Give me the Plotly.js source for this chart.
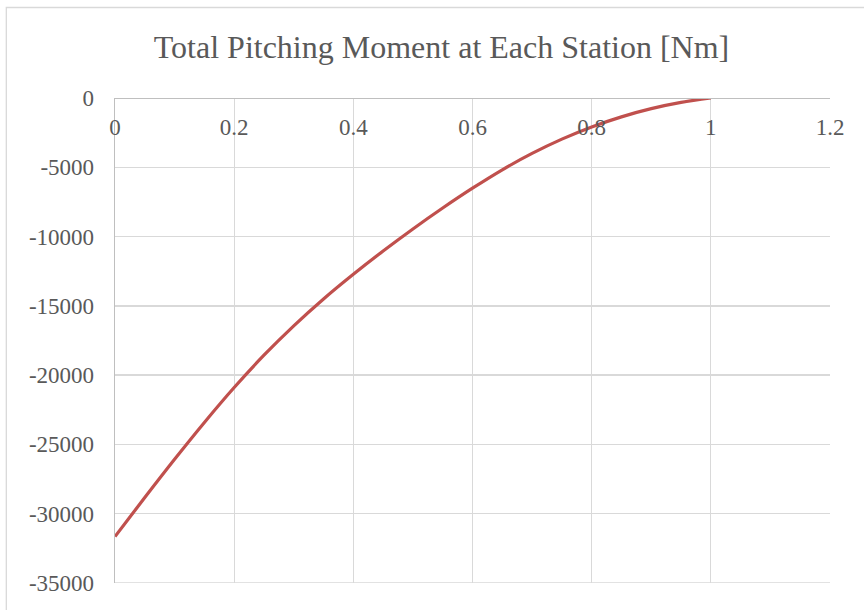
<!DOCTYPE html>
<html>
<head>
<meta charset="utf-8">
<script src="https://cdn.plot.ly/plotly-3.0.1.min.js"></script>
<style>
  html, body { margin: 0; padding: 0; background: #ffffff; }
  #chart { width: 864px; height: 610px; }
</style>
</head>
<body>
<div id="chart"></div>
<script>
// Spanwise station (normalised) and total pitching moment [Nm]
const stations = [0, 0.05, 0.1, 0.15, 0.2, 0.25, 0.3, 0.35, 0.4, 0.45, 0.5,
                  0.55, 0.6, 0.65, 0.7, 0.75, 0.8, 0.85, 0.9, 0.95, 1.0];
const moment = [-31650, -28830, -26070, -23410, -20890, -18560, -16440, -14500,
                -12720, -11040, -9450, -7940, -6510, -5180, -4000, -2970,
                -2090, -1360, -770, -320, 0];

const xTicks = [0, 0.2, 0.4, 0.6, 0.8, 1, 1.2];
const xTickText = ['0', '0.2', '0.4', '0.6', '0.8', '1', '1.2'];
const yTicks = [0, -5000, -10000, -15000, -20000, -25000, -30000, -35000];
const yTickText = ['0', '-5000', '-10000', '-15000', '-20000', '-25000', '-30000', '-35000'];

const chartTitle = 'Total Pitching Moment at Each Station [Nm]';

const textColor = '#595959';
const serif = 'Liberation Serif, Times New Roman, serif';

const trace = {
  x: stations,
  y: moment,
  type: 'scatter',
  mode: 'lines',
  line: { color: '#C0504D', width: 3.2, shape: 'spline', smoothing: 1 },
  hoverinfo: 'x+y',
  showlegend: false
};

const layout = {
  width: 864,
  height: 610,
  paper_bgcolor: '#ffffff',
  plot_bgcolor: '#ffffff',
  margin: { l: 114.5, r: 34, t: 98, b: 27, pad: 0 },
  title: {
    text: chartTitle,
    font: { family: serif, size: 32, color: textColor },
    x: 0.511, xref: 'container', xanchor: 'center',
    y: 0.923, yref: 'container', yanchor: 'middle'
  },
  xaxis: {
    range: [0, 1.2],
    tickvals: xTicks,
    ticktext: xTickText,
    anchor: 'free',
    position: 1,
    side: 'bottom',
    showline: true,
    linecolor: '#bfbfbf',
    linewidth: 1.3,
    showgrid: true,
    gridcolor: '#d9d9d9',
    gridwidth: 1.3,
    zeroline: false,
    ticks: '',
    ticklabelstandoff: 8,
    tickfont: { family: serif, size: 23, color: textColor },
    fixedrange: true
  },
  yaxis: {
    range: [-35000, 0],
    tickvals: yTicks,
    ticktext: yTickText,
    showline: true,
    linecolor: '#bfbfbf',
    linewidth: 1.3,
    showgrid: true,
    gridcolor: '#d9d9d9',
    gridwidth: 1.3,
    zeroline: false,
    ticks: '',
    ticklabelstandoff: 15,
    tickfont: { family: serif, size: 23, color: textColor },
    fixedrange: true
  },
  shapes: [
    {
      // outer chart frame
      type: 'rect', xref: 'paper', yref: 'paper',
      x0: -0.152, x1: 1.2, y0: -0.2, y1: 1.1866,
      line: { color: '#d9d9d9', width: 1.3 },
      fillcolor: 'rgba(0,0,0,0)', layer: 'below'
    },
    {
      // gridline along the lower edge of the plot area
      type: 'line', xref: 'paper', yref: 'y',
      x0: 0, x1: 1, y0: -35000, y1: -35000,
      line: { color: '#d9d9d9', width: 1.3 },
      layer: 'below'
    }
  ]
};

Plotly.newPlot('chart', [trace], layout, { displayModeBar: false, staticPlot: true });
</script>
</body>
</html>
